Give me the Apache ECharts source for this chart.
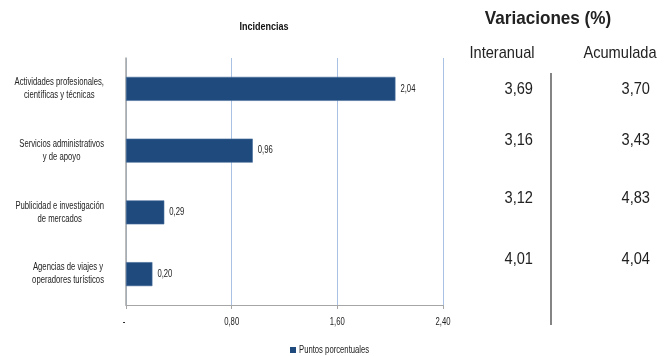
<!DOCTYPE html>
<html><head><meta charset="utf-8">
<script src="https://cdn.jsdelivr.net/npm/echarts@6/dist/echarts.min.js"></script>
<style>html,body{margin:0;padding:0;background:#fff}#c{width:668px;height:356px}</style>
</head><body><div id="c"></div>
<script>
const categories = ["Actividades profesionales,\ncientíficas y técnicas","Servicios administrativos\ny de apoyo","Publicidad e investigación\nde mercados","Agencias de viajes y\noperadores turísticos"];
const incidencias = [2.04, 0.96, 0.29, 0.20];
const xTicks = [0, 0.8, 1.6, 2.4];
const interanual = ["3,69","3,16","3,12","4,01"];
const acumulada = ["3,70","3,43","4,83","4,04"];
const seriesName = "Puntos porcentuales";
const chartTitle = "Incidencias";
const tableTitle = "Variaciones (%)";
const colHeads = ["Interanual","Acumulada"];

const FONT = '"Liberation Sans",Arial,sans-serif';
const SX = 0.77;      // condensed look (Arial Narrow)
const SXR = 0.86;
const fmt = v => v === 0 ? '-' : v.toFixed(2).replace('.', ',');
const ctx = document.createElement('canvas').getContext('2d');
function measure(text, font){ ctx.font = font; return Math.max(...text.split('\n').map(l=>ctx.measureText(l).width)); }
function txt(text, x, y, align, font, sx, fill){
  return {type:'text', x:x, y:y, scaleX:sx, scaleY:1, silent:true,
    style:{text:text, x:0, y:0, align:align, verticalAlign:'middle', font:font, fill:fill||'#222', lineHeight:13}};
}

const chart = echarts.init(document.getElementById('c'));
chart.setOption({
  animation:false,
  grid:{left:126, right:225, top:58, bottom:51},
  legend:{left:290, top:347, padding:0, itemWidth:6, itemHeight:6, icon:'rect', formatter:()=>'',
    itemStyle:{borderWidth:0, color:'#1F4A7E'},
    textStyle:{fontSize:1, lineHeight:6}, data:[seriesName]},
  xAxis:{type:'value', min:0, max:2.4, interval:0.8,
    axisLine:{show:true, lineStyle:{color:'#A6A6A6', width:1.2}},
    axisTick:{show:true, length:4, lineStyle:{color:'#A6A6A6'}},
    axisLabel:{show:false},
    splitLine:{show:true, lineStyle:{color:'#A9C1E3'}}},
  yAxis:{type:'category', inverse:true, data:categories,
    axisLine:{show:true, lineStyle:{color:'#A6A6A6', width:1.5}},
    axisTick:{show:false}, axisLabel:{show:false}},
  series:[{name:seriesName, type:'bar', data:incidencias, barWidth:24,
    itemStyle:{color:'#1F4A7E', borderColor:'#4A6E9C', borderWidth:0.6}}]
});

const g = [];
const f10 = '10px ' + FONT;
// chart title
g.push(txt(chartTitle, 264, 27, 'center', 'bold 11px ' + FONT, 0.82, '#111'));
// category labels: block right-aligned at x=104, lines centred within block
categories.forEach((c,i)=>{
  const p = chart.convertToPixel({gridIndex:0}, [0, i]);
  const w = measure(c, f10) * SX;
  g.push(txt(c, 104 - w/2, p[1], 'center', f10, SX));
});
// x tick labels
xTicks.forEach(v=>{
  const p = chart.convertToPixel({gridIndex:0}, [v, categories.length - 1]);
  g.push(txt(fmt(v), v === 0 ? p[0] - 2 : p[0], 322, 'center', f10, SX));
});
// bar value labels
incidencias.forEach((v,i)=>{
  const p = chart.convertToPixel({gridIndex:0}, [v, i]);
  g.push(txt(fmt(v), p[0] + 5, p[1], 'left', f10, SX));
});
// legend text
g.push(txt(seriesName, 299, 350, 'left', f10, SX));
// right table
const rowY = [89, 140, 198, 259];
g.push(txt(tableTitle, 548, 19, 'center', 'bold 19px ' + FONT, 0.9, '#222'));
g.push(txt(colHeads[0], 502, 53, 'center', '17px ' + FONT, SXR));
g.push(txt(colHeads[1], 620, 53, 'center', '17px ' + FONT, SXR));
interanual.forEach((t,i)=>g.push(txt(t, 533, rowY[i], 'right', '17px ' + FONT, SXR)));
acumulada.forEach((t,i)=>g.push(txt(t, 650, rowY[i], 'right', '17px ' + FONT, SXR)));
g.push({type:'line', shape:{x1:551, y1:73, x2:551, y2:325}, style:{stroke:'#333', lineWidth:1.2}});
chart.setOption({graphic:g});
</script></body></html>
